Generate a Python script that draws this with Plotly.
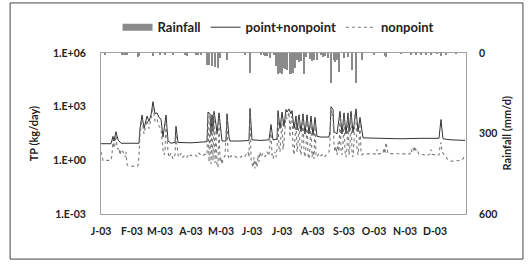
import pandas as pd
import plotly.graph_objects as go

# ---------------- data ----------------
months = ["J-03", "F-03", "M-03", "A-03", "M-03", "J-03", "J-03", "A-03", "S-03", "O-03", "N-03", "D-03"]
month_starts = ["2003-01-01", "2003-02-01", "2003-03-01", "2003-04-01", "2003-05-01", "2003-06-01",
                "2003-07-01", "2003-08-01", "2003-09-01", "2003-10-01", "2003-11-01", "2003-12-01"]

# point+nonpoint TP (kg/day), day of year index (0 = 1 Jan 2003)
pn_day = [0, 10, 12, 13, 15, 17, 20, 38, 39, 41, 43, 46, 48, 50, 52, 54, 56, 58, 60, 62, 65, 67, 70, 74, 75, 77,
          90, 100, 106, 107, 109, 110, 111, 112, 113, 115, 116, 118, 120, 121, 125, 126, 128, 129, 140, 148, 149,
          151, 160, 168, 170, 172, 176, 177, 179, 181, 183, 185, 186, 188, 190, 191, 193, 195, 196, 198, 200, 202,
          204, 206, 208, 210, 212, 214, 216, 220, 228, 229, 230, 232, 233, 236, 239, 241, 243, 245, 247, 248, 250,
          252, 255, 257, 259, 261, 262, 280, 300, 320, 338, 339, 340, 341, 342, 350, 364]
pn_val = [8.5, 8.5, 22, 12, 40, 14, 9, 9, 60, 340, 60, 300, 150, 350, 1900, 400, 450, 250, 200, 20, 340, 12, 9, 10, 80, 10,
          9.5, 10, 11, 500, 400, 30, 350, 40, 550, 100, 30, 450, 40, 12, 12, 400, 20, 12, 12, 13, 800,
          14, 13, 14, 100, 14, 15, 600, 60, 500, 80, 700, 500, 750, 400, 600, 60, 300, 50, 350, 40, 400,
          30, 350, 30, 300, 25, 250, 22, 20, 20, 40, 1000, 700, 40, 30, 550, 30, 450, 30, 450, 40, 550,
          35, 750, 40, 250, 30, 18, 17, 16, 17, 17, 60, 190, 50, 16, 14, 13]

# nonpoint TP (kg/day)
np_day = [0, 1, 2, 10, 11, 12, 13, 14, 15, 16, 17, 18, 19, 20, 22, 24, 25, 26, 27, 35, 37, 38, 39, 41, 43, 46, 48, 50,
          52, 54, 56, 58, 60, 62, 63, 64, 65, 67, 68, 70, 72, 74, 75, 77, 78, 80, 82, 84, 86, 88, 90, 92, 94, 96, 98,
          100, 102, 104, 106, 107, 108, 109, 110, 111, 112, 113, 114, 115, 116, 117, 118, 119, 120, 121, 122, 124,
          126, 127, 128, 130, 132, 134, 136, 138, 140, 142, 144, 146, 147, 148, 149, 150, 151, 152, 153, 154, 155,
          156, 157, 158, 159, 160, 162, 164, 166, 168, 170, 171, 172, 174, 175, 176, 177, 178, 179, 181, 182, 183,
          185, 186, 188, 189, 190, 191, 192, 193, 195, 196, 197, 198, 199, 200, 201, 202, 203, 204, 205, 206, 207,
          208, 209, 210, 211, 212, 213, 214, 215, 216, 218, 220, 222, 224, 226, 228, 229, 230, 231, 232, 233, 234,
          235, 236, 237, 238, 239, 240, 241, 242, 243, 244, 245, 246, 247, 248, 249, 250, 251, 252, 253, 254, 255,
          256, 257, 258, 259, 260, 261, 262, 270, 275, 276, 277, 282, 283, 284, 285, 286, 287, 300, 309, 310, 311,
          312, 313, 314, 315, 316, 317, 318, 322, 325, 327, 329, 330, 331, 334, 338, 339, 340, 341, 343, 345, 347,
          350, 355, 360, 362, 364]
np_val = [3, 2, 1, 1, 2, 15, 5, 8, 25, 6, 4, 5, 2, 4, 3, 1.5, 3, 0.6, 0.5, 0.45, 0.5, 2, 30, 200, 30, 180, 60, 200,
          1000, 150, 200, 80, 60, 4, 2, 3, 150, 3, 1.5, 2.5, 1.2, 2, 30, 2, 1.5, 2.5, 1.5, 2, 1.5, 2.3, 1.8, 2.2, 2, 1.6, 2.5,
          2, 1.8, 2.2, 2, 300, 0.8, 250, 0.6, 200, 1, 350, 0.7, 50, 0.5, 0.4, 250, 0.8, 1.5, 0.6, 1.2, 1.8,
          250, 2, 1.2, 1.8, 1.5, 1.7, 1.4, 1.6, 1.5, 2, 1.7, 2.5, 3, 1.5, 500, 1.2, 0.5, 0.4, 1.5, 0.35, 1,
          0.4, 2, 0.8, 3, 1.5, 2.5, 1.6, 3, 1.8, 50, 2, 1.2, 3, 1.5, 4, 300, 5, 3, 200, 4, 10,
          400, 200, 500, 20, 200, 300, 5, 2, 150, 3, 8, 200, 4, 2, 10, 250, 3, 1.5, 6, 200, 2,
          1.2, 5, 150, 1.5, 3, 1.2, 120, 2, 1.5, 2.5, 1.8, 2.2, 1.6, 2.4, 3, 10, 600, 300, 400, 8, 3,
          6, 2, 10, 3, 300, 4, 2, 8, 250, 3, 1.5, 5, 250, 2, 6, 300, 3, 1.5, 10, 400, 200,
          5, 2, 8, 120, 3, 2, 2.3, 2.3, 2.3, 4, 2.3, 2.4, 5, 2.3, 10, 5, 2.4, 2.3, 2.3, 4, 3,
          5, 3, 6, 3.5, 4, 3, 2.2, 2.1, 1.8, 2, 2.2, 4, 2.2, 2, 2, 6, 10, 3, 2.2, 1.5, 1.1,
          0.9, 0.95, 1, 1.2, 2]

# rainfall (mm/d)
rain_day = [4, 21, 22, 24, 26, 37, 38, 52, 59, 64, 72, 84, 86, 95, 97, 100, 106, 107, 108, 111, 114, 117, 119, 126,
            144, 149, 160, 163, 164, 166, 169, 173, 175, 177, 179, 181, 182, 184, 186, 189, 190, 192, 194, 196, 198,
            200, 203, 205, 209, 211, 213, 216, 220, 222, 224, 227, 230, 233, 234, 236, 238, 243, 247, 251, 255, 261,
            273, 284, 285, 300, 310, 315, 320, 325, 330, 336, 340, 345, 355]
rain_val = [5, 6, 4, 5, 6, 15, 12, 10, 8, 8, 6, 8, 10, 4, 6, 5, 45, 40, 45, 50, 52, 55, 20, 25,
            8, 75, 8, 8, 10, 12, 18, 8, 50, 78, 75, 80, 55, 58, 65, 78, 80, 75, 55, 25, 35,
            30, 78, 15, 22, 30, 25, 25, 8, 15, 12, 20, 112, 25, 35, 25, 70, 20, 15, 65, 112, 25,
            4, 10, 14, 3, 5, 4, 5, 4, 5, 3, 12, 4, 3]

# ---------------- figure ----------------
start = pd.Timestamp("2003-01-01")
to_dates = lambda d: start + pd.to_timedelta(d, unit="D")

FONT = "Lato"
RAIN_COLOR = "#8a8a8a"
fig = go.Figure()
fig.add_trace(go.Bar(x=to_dates(rain_day), y=rain_val, name="Rainfall", yaxis="y2", legendgroup="rain",
                     showlegend=False, marker=dict(color=RAIN_COLOR, line=dict(width=0)),
                     width=86400000 * 0.85))
# legend entry for rainfall drawn as a wide grey block (no marks in the plot)
fig.add_trace(go.Scatter(x=[None], y=[None], name="Rainfall", yaxis="y2", legendgroup="rain", mode="lines",
                         line=dict(color=RAIN_COLOR, width=7)))
fig.add_trace(go.Scatter(x=to_dates(pn_day), y=pn_val, name="point+nonpoint", mode="lines",
                         line=dict(color="#333333", width=1)))
fig.add_trace(go.Scatter(x=to_dates(np_day), y=np_val, name="nonpoint", mode="lines",
                         line=dict(color="#7a7a7a", width=1.1, dash="dot")))

axis_font = dict(family=FONT, size=10.5, color="#222222", weight="bold")
title_font = dict(family=FONT, size=11, color="#222222", weight="bold")
fig.update_layout(
    width=528, height=264,
    margin=dict(l=101, r=62, t=53, b=50),
    paper_bgcolor="white", plot_bgcolor="white",
    font=dict(family=FONT, size=10, color="#222222"),
    showlegend=True,
    legend=dict(orientation="h", x=0.485, xanchor="center", y=1.16, yanchor="middle",
                font=dict(family=FONT, size=13, color="#222222", weight="bold"),
                bgcolor="rgba(0,0,0,0)", traceorder="normal", itemwidth=30),
    xaxis=dict(type="date", range=["2003-01-01", "2004-01-01"], tickvals=month_starts, ticktext=months,
               tickfont=axis_font, showgrid=False, zeroline=False, showline=True, linecolor="#a0a0a0",
               linewidth=1, mirror=True, ticks="", ticklabelstandoff=7),
    yaxis=dict(type="log", range=[-3, 6], tickvals=[1e-3, 1, 1e3, 1e6],
               ticktext=["1.E-03", "1.E+00", "1.E+03", "1.E+06"], tickfont=axis_font,
               showgrid=False, zeroline=False, showline=True, linecolor="#a0a0a0", linewidth=1,
               ticks="", ticklabelstandoff=12),
    yaxis2=dict(overlaying="y", side="right", range=[600, 0], tickvals=[0, 300, 600], tickfont=axis_font,
                showgrid=False, zeroline=False, showline=True, linecolor="#a0a0a0", linewidth=1,
                ticks="", ticklabelstandoff=10),
    bargap=0,
    annotations=[
        dict(text="TP (kg/day)", xref="paper", yref="paper", x=-0.184, y=0.5, textangle=-90,
             showarrow=False, font=title_font, xanchor="center", yanchor="middle"),
        dict(text="Rainfall (mm/d)", xref="paper", yref="paper", x=1.112, y=0.5, textangle=-90,
             showarrow=False, font=title_font, xanchor="center", yanchor="middle"),
    ],
    shapes=[dict(type="rect", xref="paper", yref="paper", x0=-0.249, x1=1.156, y0=-0.28, y1=1.311,
                 line=dict(color="#444444", width=1), fillcolor="rgba(0,0,0,0)", layer="below")],
)

fig.write_html("out.html", config={"displayModeBar": False},
               post_script="document.body.style.margin='0';document.body.style.overflow='hidden';")
